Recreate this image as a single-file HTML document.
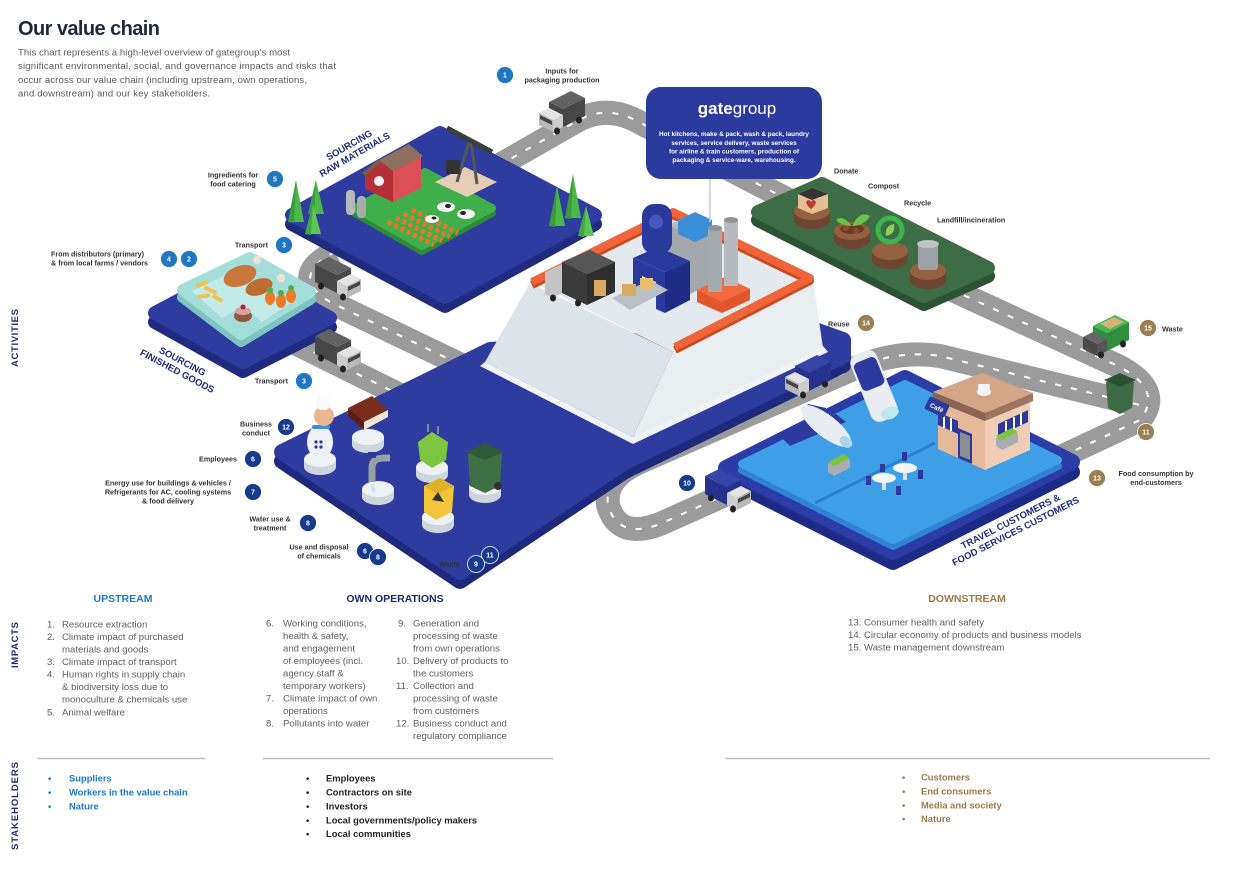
<!DOCTYPE html>
<html><head><meta charset="utf-8">
<style>
html,body{margin:0;padding:0;background:#fff;}
svg{display:block;}
text{font-family:"Liberation Sans",Arial,sans-serif;}
</style></head><body>
<svg width="1240" height="875" viewBox="0 0 1240 875" xmlns="http://www.w3.org/2000/svg">
<rect width="1240" height="875" fill="#fff"/>

<!-- HEADER -->
<text x="18" y="35" font-size="20" font-weight="bold" fill="#1c2b3a" textLength="142">Our value chain</text>
<g font-size="9.6" fill="#5a5a5a">
<text x="18" y="55.5" textLength="272">This chart represents a high-level overview of gategroup’s most</text>
<text x="18" y="69" textLength="318">significant environmental, social, and governance impacts and risks that</text>
<text x="18" y="83" textLength="289">occur across our value chain (including upstream, own operations,</text>
<text x="18" y="96.5" textLength="192">and downstream) and our key stakeholders.</text>
</g>

<!-- ROADS -->
<g fill="none" stroke-linejoin="round">
 <g stroke="#9b9b9b" stroke-width="24">
  <path d="M470 182 L575 122 Q605 104 637 121 L800 206"/>
  <path d="M935 282 L1118 366 Q1164 390 1140 420 L1050 462"/>
  <path d="M745 486 L660 524 Q618 540 608 505 Q604 478 640 462 L860 366 Q900 350 940 356 L1140 405"/>
  <path d="M335 252 Q288 276 330 302 L480 374"/>
  <path d="M285 338 L420 405"/>
 </g>
 <g stroke="#ffffff" stroke-width="2" stroke-dasharray="6 10">
  <path d="M470 182 L575 122 Q605 104 637 121 L800 206"/>
  <path d="M935 282 L1118 366 Q1164 390 1140 420 L1050 462"/>
  <path d="M745 486 L660 524 Q618 540 608 505 Q604 478 640 462 L860 366 Q900 350 940 356 L1140 405"/>
  <path d="M335 252 Q288 276 330 302 L480 374"/>
  <path d="M285 338 L420 405"/>
 </g>
</g>

<!-- RAW MATERIALS PLATFORM -->
<g stroke-linejoin="round" stroke-width="14">
 <polygon points="292,224 440,142 595,224 445,306" fill="#1f2b7e" stroke="#1f2b7e"/>
 <polygon points="292,215 440,133 595,215 445,297" fill="#2e3c9f" stroke="#2e3c9f"/>
</g>
<g stroke-linejoin="round" stroke-width="8">
 <polygon points="355,213 425,177 492,213 422,251" fill="#2d8a38" stroke="#2d8a38"/>
 <polygon points="355,208 425,172 492,208 422,246" fill="#40ae4a" stroke="#40ae4a"/>
</g>
<g stroke="#e8762a" stroke-width="5" stroke-dasharray="4 3">
 <line x1="388" y1="222" x2="434" y2="245"/>
 <line x1="396" y1="218" x2="442" y2="241"/>
 <line x1="404" y1="214" x2="450" y2="237"/>
 <line x1="412" y1="210" x2="458" y2="233"/>
</g>
<!-- barn -->
<polygon points="365,172 379,160 393,171 393,202 365,189" fill="#b42f38"/>
<polygon points="393,171 421,157 421,188 393,202" fill="#de5058"/>
<polygon points="379,160 393,171 423,156 409,144" fill="#8d705e"/>
<polygon points="362,173 379,159 381,162 365,176" fill="#7a5c4a"/>
<circle cx="379" cy="181" r="5" fill="#f2f2f2"/>
<rect x="346" y="190" width="9" height="25" rx="4" fill="#b6b9bc"/>
<rect x="357" y="196" width="9" height="22" rx="4" fill="#a9acaf"/>
<!-- oil pump -->
<polygon points="435,182 465,167 497,182 467,197" fill="#e8cdb6"/>
<line x1="457" y1="182" x2="469" y2="142" stroke="#555" stroke-width="3"/>
<line x1="477" y1="184" x2="471" y2="142" stroke="#555" stroke-width="3"/>
<line x1="447" y1="128" x2="492" y2="152" stroke="#3d3d3d" stroke-width="5"/>
<rect x="446" y="160" width="14" height="14" fill="#333"/>
<!-- cows -->
<ellipse cx="446" cy="207" rx="9" ry="5" fill="#f4f4f4"/><ellipse cx="448" cy="206" rx="3" ry="2" fill="#222"/>
<ellipse cx="466" cy="214" rx="9" ry="5" fill="#f4f4f4"/><ellipse cx="463" cy="213" rx="3" ry="2" fill="#222"/>
<ellipse cx="432" cy="219" rx="7" ry="4" fill="#f4f4f4"/><ellipse cx="434" cy="218" rx="2.5" ry="1.5" fill="#222"/>
<!-- trees -->
<g>
 <polygon points="288,222 296,180 304,222" fill="#4db84a"/><polygon points="288,222 296,180 294,223" fill="#3a9a3c"/>
 <polygon points="308,214 316,180 324,214" fill="#4db84a"/><polygon points="308,214 316,180 314,215" fill="#3a9a3c"/>
 <polygon points="305,234 313,204 321,234" fill="#5cc657"/><polygon points="305,234 313,204 311,235" fill="#43a544"/>
 <polygon points="549,226 557,186 565,226" fill="#4db84a"/><polygon points="549,226 557,186 555,227" fill="#3a9a3c"/>
 <polygon points="565,218 573,174 581,218" fill="#4db84a"/><polygon points="565,218 573,174 571,219" fill="#3a9a3c"/>
 <polygon points="578,236 586,206 594,236" fill="#5cc657"/><polygon points="578,236 586,206 584,237" fill="#43a544"/>
</g>

<!-- FINISHED GOODS PLATFORM -->
<g stroke-linejoin="round" stroke-width="14">
 <polygon points="155,322 240,277 330,327 243,371" fill="#1f2b7e" stroke="#1f2b7e"/>
 <polygon points="155,313 240,268 330,318 243,362" fill="#2e3c9f" stroke="#2e3c9f"/>
</g>
<g stroke-linejoin="round" stroke-width="12">
 <polygon points="183,297 250,265 310,299 241,341" fill="#7fc4c0" stroke="#7fc4c0"/>
 <polygon points="183,290 250,258 310,292 241,334" fill="#a3ded9" stroke="#a3ded9"/>
</g>
<polygon points="192,291 232,272 262,296 222,318" fill="#c3ece8"/>
<polygon points="240,303 268,290 292,302 262,322" fill="#c3ece8"/>
<g fill="#f2c14e">
 <rect x="196" y="282" width="12" height="4" transform="rotate(-20 202 284)"/>
 <rect x="204" y="288" width="13" height="4" transform="rotate(25 210 290)"/>
 <rect x="198" y="294" width="12" height="4" transform="rotate(-10 204 296)"/>
 <rect x="212" y="296" width="11" height="4" transform="rotate(30 217 298)"/>
</g>
<ellipse cx="240" cy="276" rx="17" ry="10" transform="rotate(-20 240 276)" fill="#c9773a"/>
<ellipse cx="259" cy="287" rx="14" ry="8" transform="rotate(-20 259 287)" fill="#bf6c33"/>
<circle cx="257" cy="260" r="4" fill="#f0e3d4"/><circle cx="281" cy="278" r="4" fill="#f0e3d4"/>
<ellipse cx="270" cy="298" rx="5" ry="7" fill="#f07a2a"/><ellipse cx="281" cy="301" rx="5" ry="7" fill="#f07a2a"/><ellipse cx="291" cy="296" rx="5" ry="7" fill="#f07a2a"/>
<circle cx="270" cy="290" r="3" fill="#4caf50"/><circle cx="281" cy="293" r="3" fill="#4caf50"/><circle cx="291" cy="288" r="3" fill="#4caf50"/>
<ellipse cx="243" cy="316" rx="9" ry="6" fill="#8b5a3c"/><ellipse cx="243" cy="311" rx="8" ry="4" fill="#d9a0a0"/><circle cx="243" cy="307" r="2.5" fill="#b0233a"/>

<!-- CENTER PLATFORM -->
<g stroke-linejoin="round" stroke-width="16">
 <polygon points="282,461 490,359 815,339 843,349 843,365 625,471 460,581" fill="#1d297a" stroke="#1d297a"/>
 <polygon points="282,452 490,350 815,330 843,340 843,356 625,462 460,572" fill="#2e3c9f" stroke="#2e3c9f"/>
</g>

<!-- BUILDING -->
<polygon points="480,366 633,444 828,352 823,346 633,437 485,362" fill="#f1f4f6"/>
<polygon points="530,283 673,352 633,437 485,362" fill="#dce4e9"/>
<polygon points="673,352 813,279 823,348 633,437" fill="#e9eef1"/>
<polygon points="530,281 673,208 813,277 673,352" fill="#e4e9ed"/>
<polyline points="532,282 673,212 810,278 675,347" fill="none" stroke="#c9491f" stroke-width="8" stroke-linejoin="round" transform="translate(0,3)"/>
<polyline points="532,282 673,212 810,278 675,347" fill="none" stroke="#ef6438" stroke-width="8" stroke-linejoin="round"/>
<!-- factory items -->
<polygon points="668,225 690,215 714,226 714,282 690,294 668,282" fill="#a3a8ad"/>
<polygon points="668,225 690,215 714,226 692,236" fill="#b9bdc1"/>
<rect x="642" y="204" width="30" height="50" rx="12" fill="#2a3a9c"/>
<circle cx="656" cy="222" r="7" fill="#4657c0"/>
<polygon points="678,220 695,212 712,220 712,234 695,242 678,234" fill="#3a8fd8"/>
<polygon points="633,258 658,247 690,261 665,272" fill="#2a3a9c"/>
<polygon points="665,272 690,261 690,300 665,313" fill="#1f2c84"/>
<polygon points="633,258 665,272 665,313 656,309 656,282 642,276 642,300 633,296" fill="#2a3a9c"/>
<polygon points="612,298 650,280 668,290 630,310" fill="#b9c0c6"/>
<rect x="622" y="284" width="14" height="12" fill="#d9aa62"/><rect x="640" y="278" width="13" height="12" fill="#e5bf6e"/>
<polygon points="697,290 725,277 750,289 750,300 722,313 697,302" fill="#e2562c"/>
<polygon points="697,290 725,277 750,289 722,302" fill="#f06a3e"/>
<rect x="708" y="228" width="14" height="64" fill="#a5aaae"/>
<rect x="724" y="220" width="14" height="66" fill="#b5babe"/>
<ellipse cx="715" cy="228" rx="7" ry="3" fill="#8e9397"/><ellipse cx="731" cy="220" rx="7" ry="3" fill="#8e9397"/>
<!-- truck on building -->
<polygon points="562,262 590,250 615,262 587,274" fill="#555"/>
<polygon points="562,262 587,274 587,305 562,293" fill="#3a3a3a"/>
<polygon points="587,274 615,262 615,292 587,305" fill="#2e2e2e"/>
<rect x="594" y="280" width="12" height="16" fill="#d9aa62"/>
<polygon points="545,272 562,264 562,293 552,298 545,294" fill="#c4c4c4"/>
<ellipse cx="553" cy="298" rx="3" ry="3.5" fill="#222"/><ellipse cx="578" cy="303" rx="3" ry="3.5" fill="#222"/>

<!-- gategroup stem + box -->
<line x1="710" y1="178" x2="710" y2="222" stroke="#c5cad0" stroke-width="1.5"/>
<rect x="646" y="87" width="176" height="92" rx="15" fill="#2b3a9d"/>
<text x="737" y="114" text-anchor="middle" font-size="17" fill="#fff"><tspan font-weight="bold">gate</tspan>group</text>
<g font-size="6.4" font-weight="bold" fill="#fff" text-anchor="middle">
<text x="734" y="136">Hot kitchens, make &amp; pack, wash &amp; pack, laundry</text>
<text x="734" y="145">services, service delivery, waste services</text>
<text x="734" y="153.5">for airline &amp; train customers,  production of</text>
<text x="734" y="162">packaging &amp; service-ware, warehousing.</text>
</g>

<!-- GREEN PLATFORM -->
<g stroke-linejoin="round" stroke-width="14">
 <polygon points="758,220 822,192 988,276 924,304" fill="#2b5233" stroke="#2b5233"/>
 <polygon points="758,212 822,184 988,268 924,296" fill="#3e6c45" stroke="#3e6c45"/>
</g>
<g>
 <ellipse cx="812" cy="220" rx="18" ry="9" fill="#6e4530"/><rect x="794" y="211" width="36" height="9" fill="#6e4530"/><ellipse cx="812" cy="211" rx="18" ry="9" fill="#94603f"/>
 <ellipse cx="852" cy="240" rx="18" ry="9" fill="#6e4530"/><rect x="834" y="231" width="36" height="9" fill="#6e4530"/><ellipse cx="852" cy="231" rx="18" ry="9" fill="#94603f"/>
 <ellipse cx="890" cy="260" rx="18" ry="9" fill="#6e4530"/><rect x="872" y="251" width="36" height="9" fill="#6e4530"/><ellipse cx="890" cy="251" rx="18" ry="9" fill="#94603f"/>
 <ellipse cx="928" cy="280" rx="18" ry="9" fill="#6e4530"/><rect x="910" y="271" width="36" height="9" fill="#6e4530"/><ellipse cx="928" cy="271" rx="18" ry="9" fill="#94603f"/>
</g>
<polygon points="798,194 812,188 828,194 828,208 812,214 798,208" fill="#e3bf94"/>
<polygon points="798,194 812,188 828,194 812,200" fill="#333"/>
<path d="M806 202 q3 -4 5 0 q2 -4 5 0 q-1 4 -5 7 q-4 -3 -5 -7z" fill="#c0392b"/>
<ellipse cx="852" cy="229" rx="12" ry="5" fill="#6b3a27"/>
<circle cx="846" cy="228" r="3" fill="#8a4a30"/><circle cx="856" cy="231" r="3" fill="#8a4a30"/>
<path d="M852 226 q-10 -12 -16 -6 q6 6 16 6z M852 226 q8 -16 18 -10 q-6 10 -18 10z" fill="#6cc24a"/>
<circle cx="890" cy="230" r="12" fill="none" stroke="#3cb54a" stroke-width="5"/>
<path d="M886 236 q-2 -10 8 -12 q2 10 -8 12z" fill="#8bd05a"/>
<rect x="918" y="244" width="20" height="26" rx="3" fill="#9da2a6"/>
<ellipse cx="928" cy="244" rx="11" ry="4" fill="#c0c4c7"/>

<!-- CUSTOMER PLATFORM -->
<g stroke-linejoin="round" stroke-width="16">
 <polygon points="726,478 905,388 1072,472 893,562" fill="#1d2a86" stroke="#1d2a86"/>
 <polygon points="726,468 905,378 1072,462 893,552" fill="#2b3ca6" stroke="#2b3ca6"/>
</g>
<g stroke-linejoin="round" stroke-width="8">
 <polygon points="742,470 905,390 1058,466 893,546" fill="#2f83d2" stroke="#2f83d2"/>
 <polygon points="742,464 905,384 1058,460 893,540" fill="#3f9fe6" stroke="#3f9fe6"/>
</g>
<line x1="815" y1="503" x2="935" y2="443" stroke="#2f7fcf" stroke-width="3"/>
<!-- cafe -->
<polygon points="938,399 985,420 985,470 938,449" fill="#e6b99c"/>
<polygon points="985,420 1030,400 1030,450 985,470" fill="#f0cdb6"/>
<polygon points="958,428 972,434 972,464 958,458" fill="#2b3a9c"/>
<polygon points="960,432 970,436 970,460 960,456" fill="#8a8f94"/>
<polygon points="938,412 958,421 958,434 938,425" fill="#2b3a9c"/>
<polygon points="998,424 1028,410 1028,422 998,436" fill="#2b3a9c"/>
<g stroke="#fff" stroke-width="2"><line x1="944" y1="415" x2="944" y2="428"/><line x1="951" y1="418" x2="951" y2="431"/><line x1="1006" y1="421" x2="1006" y2="433"/><line x1="1014" y1="417" x2="1014" y2="429"/><line x1="1021" y1="413" x2="1021" y2="425"/></g>
<polygon points="933,392 982,373 1033,393 985,413" fill="#d4a688"/>
<polygon points="933,392 985,413 985,421 933,400" fill="#8a6552"/>
<polygon points="985,413 1033,393 1033,401 985,421" fill="#9c7460"/>
<rect x="926" y="400" width="22" height="14" rx="2" fill="#2b3a9c" transform="rotate(25 937 407)"/>
<text x="937" y="410" text-anchor="middle" font-size="6.5" font-weight="bold" fill="#fff" transform="rotate(25 937 407)">Café</text>
<ellipse cx="984" cy="392" rx="7" ry="4" fill="#f4f4f4"/><rect x="978" y="384" width="12" height="8" fill="#f4f4f4"/>
<!-- plane -->
<polygon points="778,434 836,414 846,422 790,446" fill="#2b3a9c"/>
<polygon points="808,404 826,408 826,414 804,410" fill="#2b3a9c"/>
<ellipse cx="826" cy="426" rx="31" ry="11" transform="rotate(38 826 426)" fill="#e9edf1"/>
<ellipse cx="846" cy="442" rx="7" ry="5" transform="rotate(38 846 442)" fill="#a9d9e6"/>
<!-- train -->
<rect x="860" y="350" width="28" height="72" rx="9" transform="rotate(-22 874 386)" fill="#e9edf1"/>
<rect x="862" y="358" width="24" height="30" rx="5" transform="rotate(-22 874 386)" fill="#2b3a9c"/>
<ellipse cx="890" cy="413" rx="9" ry="6" transform="rotate(-22 890 413)" fill="#bfe6ec"/>
<!-- tables -->
<rect x="882" y="478" width="4" height="12" fill="#ddd"/><rect x="903" y="468" width="4" height="12" fill="#ddd"/>
<ellipse cx="884" cy="478" rx="12" ry="5" fill="#f2f4f6"/><ellipse cx="905" cy="468" rx="12" ry="5" fill="#f2f4f6"/>
<g fill="#2b3a9c"><rect x="866" y="476" width="5" height="9"/><rect x="896" y="486" width="5" height="9"/><rect x="918" y="470" width="5" height="9"/><rect x="902" y="452" width="5" height="9"/><rect x="880" y="464" width="5" height="8"/></g>
<polygon points="828,464 844,456 850,460 850,468 834,476 828,472" fill="#a9adb1"/>
<polygon points="828,462 844,454 850,458 834,466" fill="#7cc43f"/>
<polygon points="996,438 1012,430 1018,434 1018,442 1002,450 996,446" fill="#a9adb1"/>
<polygon points="996,436 1012,428 1018,432 1002,440" fill="#7cc43f"/>

<!-- OWN OPS OBJECTS -->
<g>
 <ellipse cx="320" cy="467" rx="16" ry="8" fill="#cdd6dd"/><rect x="304" y="459" width="32" height="8" fill="#cdd6dd"/><ellipse cx="320" cy="459" rx="16" ry="8" fill="#eef2f5"/>
 <ellipse cx="368" cy="445" rx="16" ry="8" fill="#cdd6dd"/><rect x="352" y="437" width="32" height="8" fill="#cdd6dd"/><ellipse cx="368" cy="437" rx="16" ry="8" fill="#eef2f5"/>
 <ellipse cx="378" cy="497" rx="16" ry="8" fill="#cdd6dd"/><rect x="362" y="489" width="32" height="8" fill="#cdd6dd"/><ellipse cx="378" cy="489" rx="16" ry="8" fill="#eef2f5"/>
 <ellipse cx="432" cy="475" rx="16" ry="8" fill="#cdd6dd"/><rect x="416" y="467" width="32" height="8" fill="#cdd6dd"/><ellipse cx="432" cy="467" rx="16" ry="8" fill="#eef2f5"/>
 <ellipse cx="438" cy="525" rx="16" ry="8" fill="#cdd6dd"/><rect x="422" y="517" width="32" height="8" fill="#cdd6dd"/><ellipse cx="438" cy="517" rx="16" ry="8" fill="#eef2f5"/>
 <ellipse cx="485" cy="495" rx="16" ry="8" fill="#cdd6dd"/><rect x="469" y="487" width="32" height="8" fill="#cdd6dd"/><ellipse cx="485" cy="487" rx="16" ry="8" fill="#eef2f5"/>
</g>
<!-- chef -->
<ellipse cx="320" cy="442" rx="13" ry="17" fill="#eef1f4"/>
<rect x="312" y="425" width="18" height="4" rx="2" fill="#3a8fd8"/>
<circle cx="316" cy="442" r="1.6" fill="#2b3a9c"/><circle cx="321" cy="442" r="1.6" fill="#2b3a9c"/><circle cx="316" cy="447" r="1.6" fill="#2b3a9c"/><circle cx="321" cy="447" r="1.6" fill="#2b3a9c"/>
<circle cx="324" cy="416" r="10" fill="#e8b792"/>
<rect x="316" y="396" width="14" height="14" rx="5" fill="#fafafa"/>
<!-- book -->
<polygon points="348,408 372,396 388,410 364,422" fill="#7a2c1f"/>
<polygon points="348,408 364,422 364,430 348,416" fill="#5a1d15"/>
<polygon points="364,422 388,410 388,417 364,430" fill="#efe6d4"/>
<!-- faucet -->
<path d="M372 482 L372 468 Q372 458 384 458 L390 458" fill="none" stroke="#9aa0a5" stroke-width="7"/>
<rect x="368" y="452" width="8" height="6" fill="#2b3a9c"/>
<line x1="372" y1="484" x2="374" y2="492" stroke="#bfe9f7" stroke-width="3"/>
<!-- plug -->
<polygon points="418,442 432,432 448,442 446,460 432,468 420,460" fill="#7ec63f"/>
<line x1="428" y1="432" x2="428" y2="424" stroke="#888" stroke-width="2"/><line x1="438" y1="434" x2="438" y2="426" stroke="#888" stroke-width="2"/>
<!-- barrel -->
<polygon points="424,486 440,478 454,486 452,512 436,520 424,512" fill="#f2c53a"/>
<polygon points="424,486 440,478 454,486 438,494" fill="#e0b22a"/>
<polygon points="432,500 438,492 444,502" fill="#333"/>
<!-- bin -->
<polygon points="468,454 485,446 502,454 500,486 485,493 470,486" fill="#3f6f45"/>
<polygon points="466,452 485,443 504,452 485,460" fill="#2f5835"/>
<circle cx="498" cy="486" r="4" fill="#333"/>

<!-- TRUCKS -->
<g transform="translate(562,116) scale(-1,1)">
<polygon points="-23,0 -1,11 -1,-7 -23,-18" fill="#474747"/><polygon points="-23,-18 -1,-7 13,-14 -9,-25" fill="#626262"/><polygon points="-1,-7 13,-14 13,-4 -1,3" fill="#474747"/>
<polygon points="-1,11 9,16 9,4 -1,-1" fill="#cdcdcd"/><polygon points="-1,-1 9,4 23,-3 13,-8" fill="#e4e4e4"/><polygon points="9,16 23,9 23,-3 9,4" fill="#b8b8b8"/><polygon points="10,5 22,-1 22,3 10,9" fill="#444"/>
<ellipse cx="-17" cy="4" rx="3" ry="3.5" fill="#222"/><ellipse cx="5" cy="15" rx="3" ry="3.5" fill="#222"/></g>
<g transform="translate(338,282)">
<polygon points="-23,0 -1,11 -1,-7 -23,-18" fill="#474747"/><polygon points="-23,-18 -1,-7 13,-14 -9,-25" fill="#626262"/><polygon points="-1,-7 13,-14 13,-4 -1,3" fill="#474747"/>
<polygon points="-1,11 9,16 9,4 -1,-1" fill="#cdcdcd"/><polygon points="-1,-1 9,4 23,-3 13,-8" fill="#e4e4e4"/><polygon points="9,16 23,9 23,-3 9,4" fill="#b8b8b8"/><polygon points="10,5 22,-1 22,3 10,9" fill="#444"/>
<ellipse cx="-17" cy="4" rx="3" ry="3.5" fill="#222"/><ellipse cx="5" cy="15" rx="3" ry="3.5" fill="#222"/></g>
<g transform="translate(338,354)">
<polygon points="-23,0 -1,11 -1,-7 -23,-18" fill="#474747"/><polygon points="-23,-18 -1,-7 13,-14 -9,-25" fill="#626262"/><polygon points="-1,-7 13,-14 13,-4 -1,3" fill="#474747"/>
<polygon points="-1,11 9,16 9,4 -1,-1" fill="#cdcdcd"/><polygon points="-1,-1 9,4 23,-3 13,-8" fill="#e4e4e4"/><polygon points="9,16 23,9 23,-3 9,4" fill="#b8b8b8"/><polygon points="10,5 22,-1 22,3 10,9" fill="#444"/>
<ellipse cx="-17" cy="4" rx="3" ry="3.5" fill="#222"/><ellipse cx="5" cy="15" rx="3" ry="3.5" fill="#222"/></g>
<g transform="translate(808,380) scale(-1,1)">
<polygon points="-23,0 -1,11 -1,-7 -23,-18" fill="#24318f"/><polygon points="-23,-18 -1,-7 13,-14 -9,-25" fill="#3646a8"/><polygon points="-1,-7 13,-14 13,-4 -1,3" fill="#24318f"/>
<polygon points="-1,11 9,16 9,4 -1,-1" fill="#cdcdcd"/><polygon points="-1,-1 9,4 23,-3 13,-8" fill="#e4e4e4"/><polygon points="9,16 23,9 23,-3 9,4" fill="#b8b8b8"/><polygon points="10,5 22,-1 22,3 10,9" fill="#444"/>
<ellipse cx="-17" cy="4" rx="3" ry="3.5" fill="#222"/><ellipse cx="5" cy="15" rx="3" ry="3.5" fill="#222"/></g>
<g transform="translate(728,494)">
<polygon points="-23,0 -1,11 -1,-7 -23,-18" fill="#24318f"/><polygon points="-23,-18 -1,-7 13,-14 -9,-25" fill="#3646a8"/><polygon points="-1,-7 13,-14 13,-4 -1,3" fill="#24318f"/>
<polygon points="-1,11 9,16 9,4 -1,-1" fill="#cdcdcd"/><polygon points="-1,-1 9,4 23,-3 13,-8" fill="#e4e4e4"/><polygon points="9,16 23,9 23,-3 9,4" fill="#b8b8b8"/><polygon points="10,5 22,-1 22,3 10,9" fill="#444"/>
<ellipse cx="-17" cy="4" rx="3" ry="3.5" fill="#222"/><ellipse cx="5" cy="15" rx="3" ry="3.5" fill="#222"/></g>
<g transform="translate(1106,340) scale(-1,1)">
<polygon points="-23,0 -1,11 -1,-7 -23,-18" fill="#2f8f3e"/><polygon points="-23,-18 -1,-7 13,-14 -9,-25" fill="#46b856"/><polygon points="-1,-7 13,-14 13,-4 -1,3" fill="#2f8f3e"/>
<polygon points="-18,-18 -4,-11 6,-16 -8,-23" fill="#d8b07a"/>
<polygon points="-1,11 9,16 9,4 -1,-1" fill="#555"/><polygon points="-1,-1 9,4 23,-3 13,-8" fill="#666"/><polygon points="9,16 23,9 23,-3 9,4" fill="#4a4a4a"/>
<ellipse cx="-17" cy="4" rx="3" ry="3.5" fill="#222"/><ellipse cx="5" cy="15" rx="3" ry="3.5" fill="#222"/></g>
<polygon points="1106,382 1120,376 1134,382 1132,408 1120,414 1108,408" fill="#3e6b45"/>
<polygon points="1104,380 1120,373 1136,380 1120,387" fill="#2d5233"/>

<!-- ROTATED SECTION LABELS -->
<g font-size="9.5" font-weight="bold" fill="#1e2d7a" text-anchor="middle">
<text transform="translate(352,150) rotate(-30)"><tspan x="0" y="-2.5">SOURCING</tspan><tspan x="0" y="8.5">RAW MATERIALS</tspan></text>
<text transform="translate(180,366) rotate(28)"><tspan x="0" y="-2">SOURCING</tspan><tspan x="0" y="9">FINISHED GOODS</tspan></text>
<text transform="translate(1013,526) rotate(-27)"><tspan x="0" y="-2">TRAVEL CUSTOMERS &amp;</tspan><tspan x="0" y="9">FOOD SERVICES CUSTOMERS</tspan></text>
</g>

<!-- SMALL LABELS -->
<g font-size="7.2" font-weight="bold" fill="#333">
<text x="562" y="73.5" text-anchor="middle">Inputs for</text>
<text x="562" y="82.5" text-anchor="middle">packaging production</text>
<text x="233" y="177.5" text-anchor="middle">Ingredients for</text>
<text x="233" y="186.5" text-anchor="middle">food catering</text>
<text x="268" y="247.5" text-anchor="end">Transport</text>
<text x="51" y="256.5">From distributors (primary)</text>
<text x="51" y="265.5">&amp; from local farms / vendors</text>
<text x="288" y="383.5" text-anchor="end">Transport</text>
<text x="256" y="426.5" text-anchor="middle">Business</text>
<text x="256" y="435.5" text-anchor="middle">conduct</text>
<text x="237" y="461.5" text-anchor="end">Employees</text>
<text x="168" y="485.5" text-anchor="middle">Energy use for buildings &amp; vehicles /</text>
<text x="168" y="494.5" text-anchor="middle">Refrigerants for AC, cooling systems</text>
<text x="168" y="503.5" text-anchor="middle">&amp; food delivery</text>
<text x="270" y="521.5" text-anchor="middle">Water use &amp;</text>
<text x="270" y="530.5" text-anchor="middle">treatment</text>
<text x="319" y="549.5" text-anchor="middle">Use and disposal</text>
<text x="319" y="558.5" text-anchor="middle">of chemicals</text>
<text x="439" y="566.5">Waste</text>
<text x="834" y="173.5">Donate</text>
<text x="868" y="188.5">Compost</text>
<text x="904" y="205.5">Recycle</text>
<text x="937" y="222.5">Landfill/incineration</text>
<text x="828" y="326.5">Reuse</text>
<text x="1162" y="331.5">Waste</text>
<text x="1156" y="476" text-anchor="middle">Food consumption by</text>
<text x="1156" y="485" text-anchor="middle">end-customers</text>
</g>

<!-- NUMBER CIRCLES -->
<g stroke="#fff" stroke-width="0.8">
<circle cx="505" cy="75" r="8.5" fill="#1f77c3"/>
<circle cx="275" cy="179" r="8.5" fill="#1f77c3"/>
<circle cx="284" cy="245" r="8.5" fill="#1f77c3"/>
<circle cx="169" cy="259" r="8.5" fill="#1f77c3"/>
<circle cx="189" cy="259" r="8.5" fill="#1f77c3"/>
<circle cx="304" cy="381" r="8.5" fill="#1f77c3"/>
<circle cx="286" cy="427" r="8.5" fill="#173b8c"/>
<circle cx="253" cy="459" r="8.5" fill="#173b8c"/>
<circle cx="253" cy="492" r="8.5" fill="#173b8c"/>
<circle cx="308" cy="523" r="8.5" fill="#173b8c"/>
<circle cx="365" cy="551" r="8.5" fill="#173b8c"/>
<circle cx="378" cy="557" r="8.5" fill="#173b8c"/>
<circle cx="490" cy="555" r="8.5" fill="#173b8c"/>
<circle cx="476" cy="564" r="8.5" fill="#173b8c"/>
<circle cx="687" cy="483" r="8.5" fill="#173b8c"/>
<circle cx="866" cy="323" r="8.5" fill="#9b7f52"/>
<circle cx="1148" cy="328" r="8.5" fill="#9b7f52"/>
<circle cx="1146" cy="432" r="8.5" fill="#9b7f52"/>
<circle cx="1097" cy="478" r="8.5" fill="#9b7f52"/>
</g>
<g font-size="7" font-weight="bold" fill="#fff" text-anchor="middle">
<text x="505" y="77.5">1</text>
<text x="275" y="181.5">5</text>
<text x="284" y="247.5">3</text>
<text x="169" y="261.5">4</text>
<text x="189" y="261.5">2</text>
<text x="304" y="383.5">3</text>
<text x="286" y="429.5">12</text>
<text x="253" y="461.5">6</text>
<text x="253" y="494.5">7</text>
<text x="308" y="525.5">8</text>
<text x="365" y="553.5">6</text>
<text x="378" y="559.5">8</text>
<text x="490" y="557.5">11</text>
<text x="476" y="566.5">9</text>
<text x="687" y="485.5">10</text>
<text x="866" y="325.5">14</text>
<text x="1148" y="330.5">15</text>
<text x="1146" y="434.5">11</text>
<text x="1097" y="480.5">13</text>
</g>

<!-- VERTICAL SIDE LABELS -->
<g font-size="9.5" font-weight="bold" fill="#1e2d6b" text-anchor="middle">
<text transform="translate(18,338) rotate(-90)" textLength="58">ACTIVITIES</text>
<text transform="translate(18,645) rotate(-90)" textLength="46">IMPACTS</text>
<text transform="translate(18,806) rotate(-90)" textLength="88">STAKEHOLDERS</text>
</g>

<!-- IMPACTS HEADERS -->
<g font-size="10.5" font-weight="bold" text-anchor="middle">
<text x="123" y="602" fill="#1a7ac4">UPSTREAM</text>
<text x="395" y="602" fill="#1a2a6a">OWN OPERATIONS</text>
<text x="967" y="602" fill="#9b7b4a">DOWNSTREAM</text>
</g>

<!-- IMPACT LISTS -->
<g font-size="9.6" fill="#5e5e5e">
<text x="47" y="627.5">1.</text><text x="62" y="627.5">Resource extraction</text>
<text x="47" y="640">2.</text><text x="62" y="640">Climate impact of purchased</text>
<text x="62" y="652.5">materials and goods</text>
<text x="47" y="665">3.</text><text x="62" y="665">Climate impact of transport</text>
<text x="47" y="677.5">4.</text><text x="62" y="677.5">Human rights in supply chain</text>
<text x="62" y="690">&amp; biodiversity loss due to</text>
<text x="62" y="702.5">monoculture &amp; chemicals use</text>
<text x="47" y="715.5">5.</text><text x="62" y="715.5">Animal welfare</text>

<text x="266" y="626.5">6.</text><text x="283" y="626.5">Working conditions,</text>
<text x="283" y="639">health &amp; safety,</text>
<text x="283" y="651.5">and engagement</text>
<text x="283" y="664">of employees (incl.</text>
<text x="283" y="676.5">agency staff &amp;</text>
<text x="283" y="689">temporary workers)</text>
<text x="266" y="701.5">7.</text><text x="283" y="701.5">Climate impact of own</text>
<text x="283" y="714">operations</text>
<text x="266" y="726.5">8.</text><text x="283" y="726.5">Pollutants into water</text>

<text x="398" y="626.5">9.</text><text x="413" y="626.5">Generation and</text>
<text x="413" y="639">processing of waste</text>
<text x="413" y="651.5">from own operations</text>
<text x="396" y="664">10.</text><text x="413" y="664">Delivery of products to</text>
<text x="413" y="676.5">the customers</text>
<text x="396" y="689">11.</text><text x="413" y="689">Collection and</text>
<text x="413" y="701.5">processing of waste</text>
<text x="413" y="714">from customers</text>
<text x="396" y="726.5">12.</text><text x="413" y="726.5">Business conduct and</text>
<text x="413" y="739">regulatory compliance</text>

<text x="848" y="625.5">13. Consumer health and safety</text>
<text x="848" y="638">14. Circular economy of products and business models</text>
<text x="848" y="650.5">15. Waste management downstream</text>
</g>

<!-- RULES -->
<g stroke="#bdbdbd" stroke-width="1.5">
<line x1="37" y1="758.5" x2="205" y2="758.5"/>
<line x1="263" y1="758.5" x2="553" y2="758.5"/>
<line x1="725" y1="758.5" x2="1210" y2="758.5"/>
</g>

<!-- STAKEHOLDERS -->
<g font-size="9.4" font-weight="bold">
<g fill="#1a7ac4">
<text x="48" y="781.5">•</text><text x="69" y="781.5">Suppliers</text>
<text x="48" y="795.5">•</text><text x="69" y="795.5">Workers in the value chain</text>
<text x="48" y="809.5">•</text><text x="69" y="809.5">Nature</text>
</g>
<g fill="#222">
<text x="306" y="781.5">•</text><text x="326" y="781.5">Employees</text>
<text x="306" y="795.5">•</text><text x="326" y="795.5">Contractors on site</text>
<text x="306" y="809.5">•</text><text x="326" y="809.5">Investors</text>
<text x="306" y="823.5">•</text><text x="326" y="823.5">Local governments/policy makers</text>
<text x="306" y="837">•</text><text x="326" y="837">Local communities</text>
</g>
<g fill="#9b7b4a">
<text x="902" y="780.5">•</text><text x="921" y="780.5">Customers</text>
<text x="902" y="794.5">•</text><text x="921" y="794.5">End consumers</text>
<text x="902" y="808.5">•</text><text x="921" y="808.5">Media and society</text>
<text x="902" y="822">•</text><text x="921" y="822">Nature</text>
</g>
</g>
</svg>
</body></html>
